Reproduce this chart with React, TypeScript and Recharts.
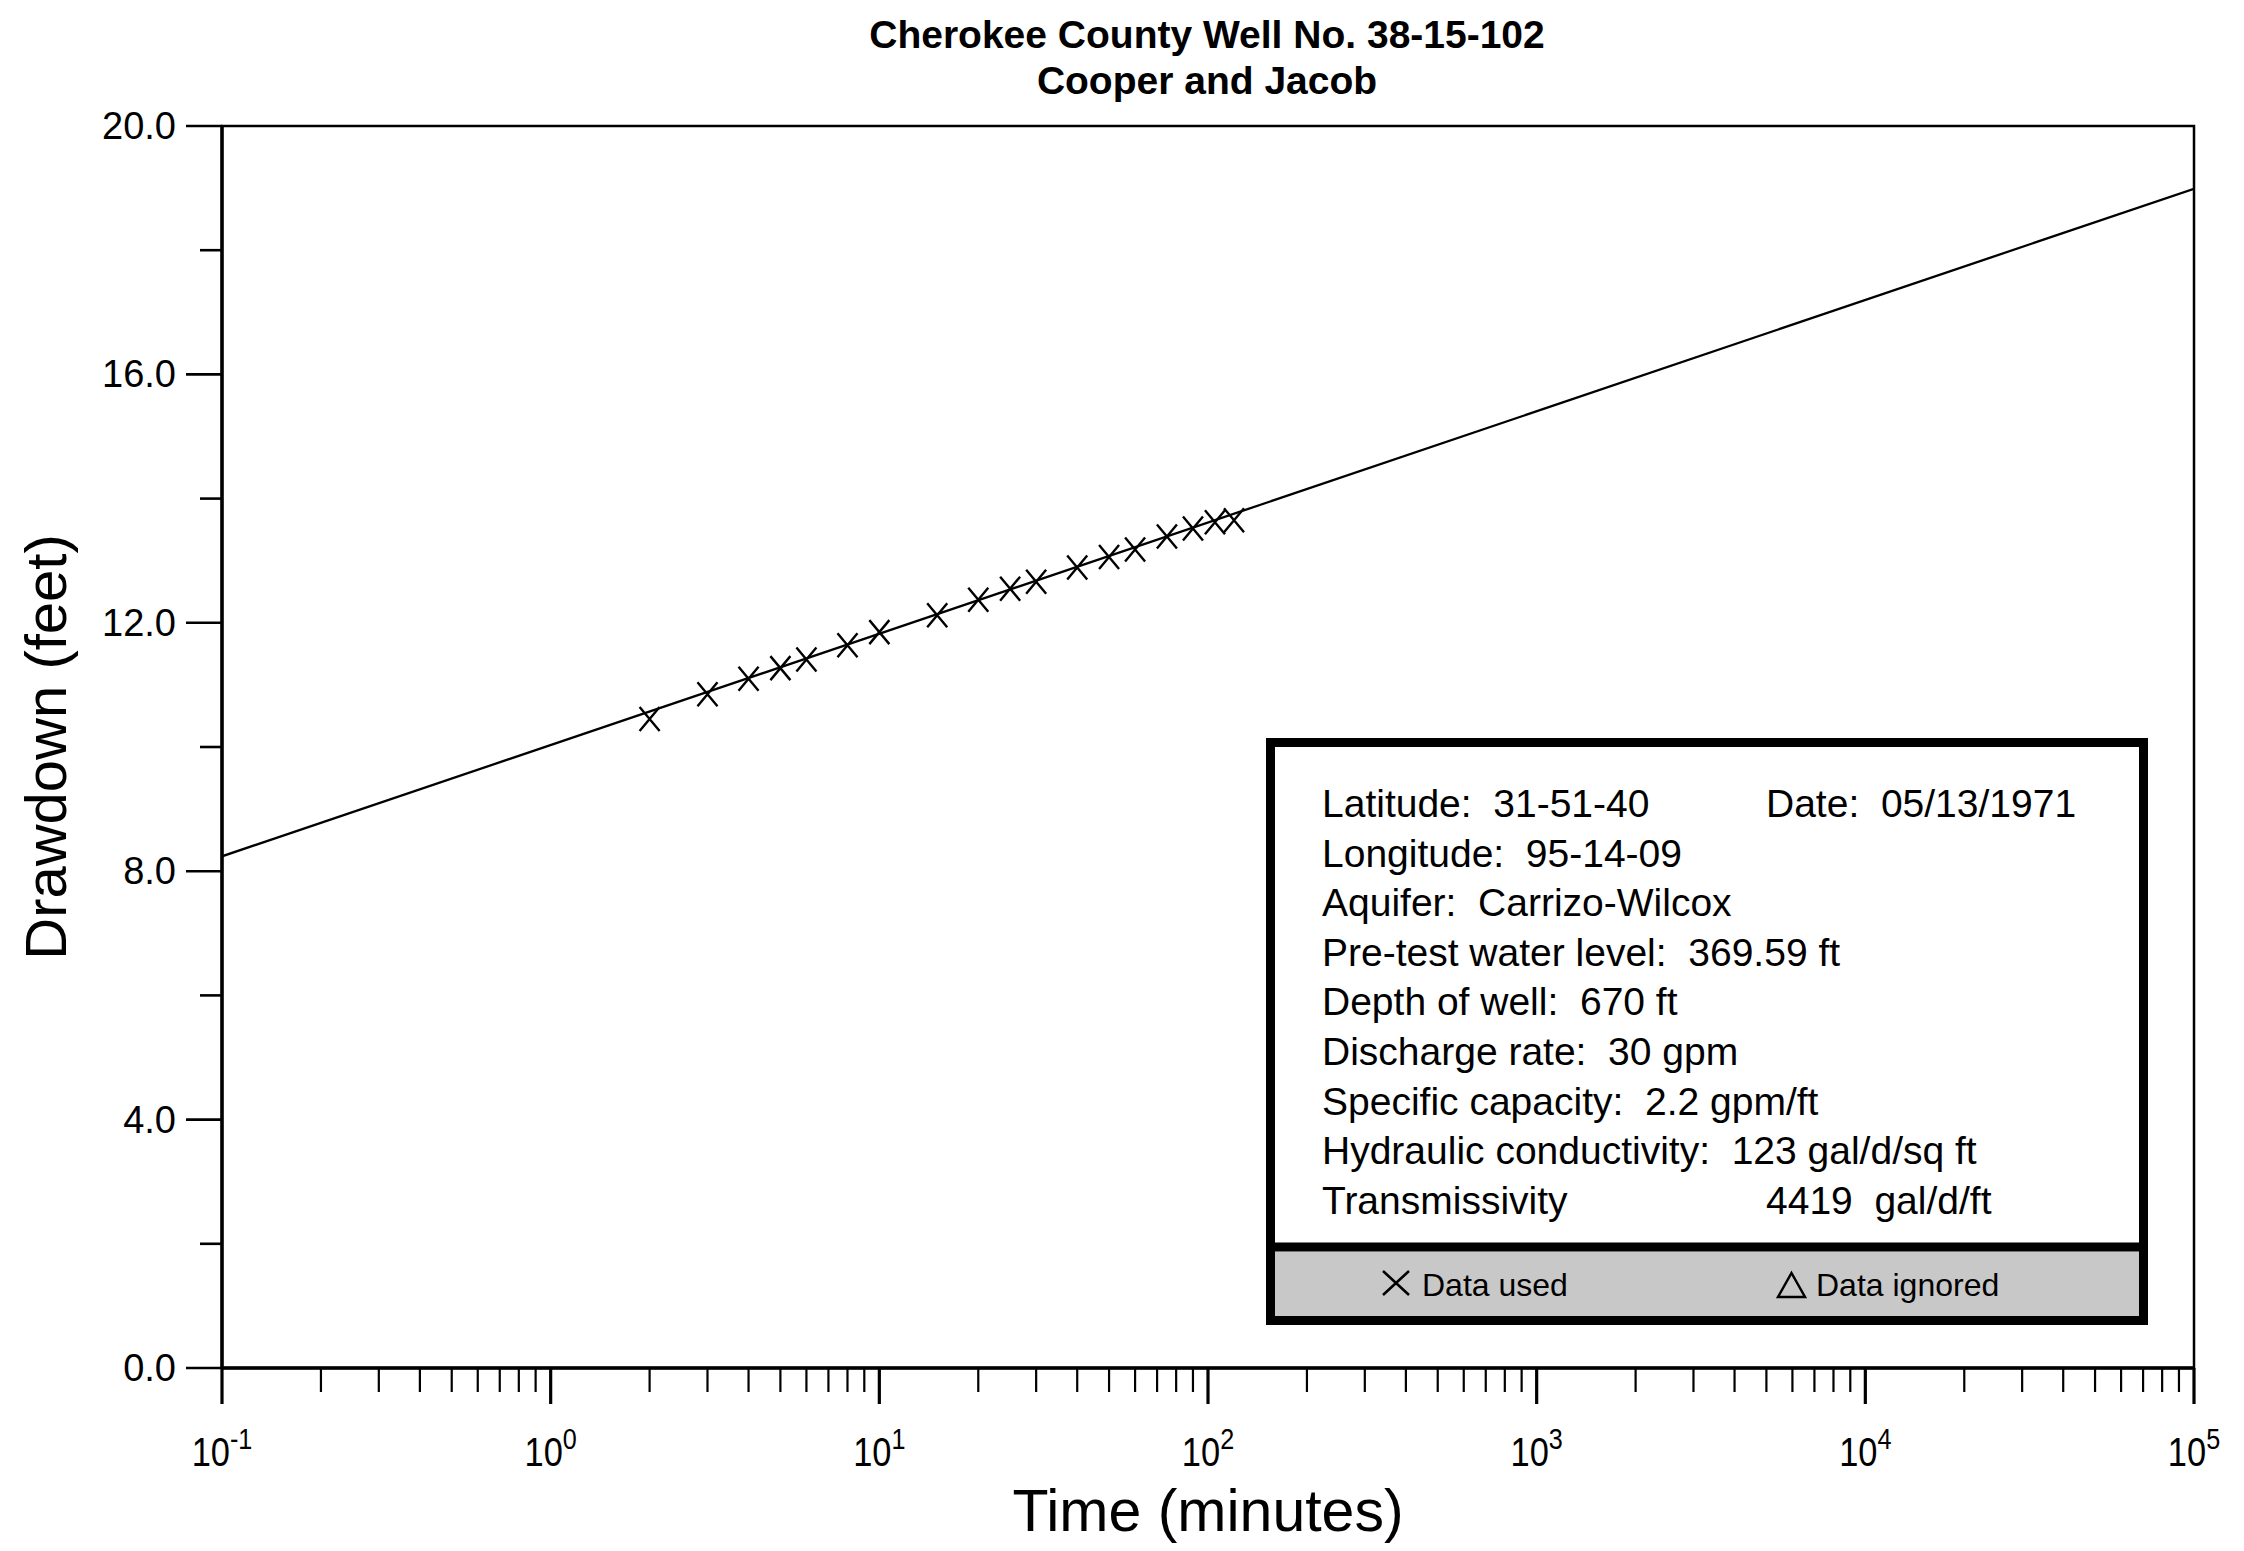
import React from 'react';
import { ScatterChart, Scatter, XAxis, YAxis, ReferenceArea } from 'recharts';

// ---------- data ----------
const TIMES = [2, 3, 4, 5, 6, 8, 10, 15, 20, 25, 30, 40, 50, 60, 75, 90, 105, 120];
const DRAWDOWN = [10.45, 10.85, 11.1, 11.27, 11.41, 11.64, 11.85, 12.12, 12.37, 12.55, 12.66, 12.89, 13.06, 13.18, 13.39, 13.52, 13.62, 13.65];
const FIT_TIMES = [0.1, 100000];
const FIT_DRAWDOWN = [8.24, 18.99];

const X_MAJOR_TICKS = [0.1, 1, 10, 100, 1000, 10000, 100000];
const X_TICK_EXPONENTS = ['-1', '0', '1', '2', '3', '4', '5'];
const X_MINOR_MULTIPLIERS = [2, 3, 4, 5, 6, 7, 8, 9];
const Y_TICKS = [0, 2, 4, 6, 8, 10, 12, 14, 16, 18, 20];
const Y_MAJOR_TICKS = [0, 4, 8, 12, 16, 20];

const TITLE_LINES = ['Cherokee County Well No. 38-15-102', 'Cooper and Jacob'];
const X_TITLE = 'Time (minutes)';
const Y_TITLE = 'Drawdown (feet)';
const INFO_LINES = [
  'Latitude:  31-51-40',
  'Longitude:  95-14-09',
  'Aquifer:  Carrizo-Wilcox',
  'Pre-test water level:  369.59 ft',
  'Depth of well:  670 ft',
  'Discharge rate:  30 gpm',
  'Specific capacity:  2.2 gpm/ft',
  'Hydraulic conductivity:  123 gal/d/sq ft',
  'Transmissivity',
];
const INFO_RIGHT: [number, string][] = [
  [0, 'Date:  05/13/1971'],
  [8, '4419  gal/d/ft'],
];
const LEGEND_USED = 'Data used';
const LEGEND_IGNORED = 'Data ignored';

// ---------- derived tables ----------
const pointData = TIMES.map((t, i) => ({ t, s: DRAWDOWN[i] }));
const fitData = FIT_TIMES.map((t, i) => ({ t, s: FIT_DRAWDOWN[i] }));
const X_TICKS: number[] = [];
X_MAJOR_TICKS.forEach((m, i) => {
  X_TICKS.push(m);
  if (i < X_MAJOR_TICKS.length - 1) X_MINOR_MULTIPLIERS.forEach((k) => X_TICKS.push(m * k));
});

const FONT = '"Liberation Sans", Arial, Helvetica, sans-serif';
const W = 2228;
const H = 1535;

const XTick = (props: any) => {
  const { x, y, payload } = props;
  const idx = X_MAJOR_TICKS.findIndex((m) => Math.abs(m - payload.value) < 1e-9 * Math.max(1, m));
  const major = idx >= 0;
  return (
    <g>
      <line x1={x} y1={y} x2={x} y2={y + (major ? 36 : 24)} stroke="#000" strokeWidth={major ? 3.2 : 2.2} />
      {major && (
        <g transform={`translate(${x},${y + 98}) scale(0.84,1)`}>
          <text x={0} y={0} textAnchor="middle" fontFamily={FONT} fill="#000">
            <tspan fontSize={41}>10</tspan>
            <tspan fontSize={30} dy={-17}>{X_TICK_EXPONENTS[idx]}</tspan>
          </text>
        </g>
      )}
    </g>
  );
};

const YTick = (props: any) => {
  const { x, y, payload } = props;
  const major = Y_MAJOR_TICKS.includes(payload.value);
  return (
    <g>
      <line x1={x} y1={y} x2={x - (major ? 36 : 22)} y2={y} stroke="#000" strokeWidth={2.6} />
      {major && (
        <text x={x - 46} y={y + 13} textAnchor="end" fontSize={38} fontFamily={FONT} fill="#000">
          {payload.value.toFixed(1)}
        </text>
      )}
    </g>
  );
};

const XMarker = (props: any) => {
  const { cx, cy } = props;
  if (cx == null || cy == null) return <g />;
  return (
    <path
      d={`M${cx - 10},${cy - 12}L${cx + 10},${cy + 12}M${cx - 10},${cy + 12}L${cx + 10},${cy - 12}`}
      stroke="#000"
      strokeWidth={2.4}
      fill="none"
    />
  );
};

const NoShape = () => <g />;

export default function App() {
  return (
    <div style={{ position: 'relative', width: W, height: H, background: '#fff' }}>
      <style>{'html,body{overflow:hidden;background:#fff}'}</style>
      <ScatterChart width={W} height={H} margin={{ top: 118, right: 42, bottom: 55, left: 64 }}>
        <XAxis
          dataKey="t"
          type="number"
          scale="log"
          domain={[0.1, 100000]}
          allowDataOverflow
          ticks={X_TICKS}
          interval={0}
          tickSize={0}
          tickMargin={0}
          tickLine={false}
          axisLine={{ stroke: '#000', strokeWidth: 3.5 }}
          height={120}
          tick={<XTick />}
        />
        <YAxis
          dataKey="s"
          type="number"
          domain={[0, 20]}
          allowDataOverflow
          ticks={Y_TICKS}
          interval={0}
          tickSize={0}
          tickMargin={0}
          tickLine={false}
          axisLine={{ stroke: '#000', strokeWidth: 3.5 }}
          width={150}
          tick={<YTick />}
        />
        <ReferenceArea x1={0.1} x2={100000} y1={0} y2={20} fill="none" fillOpacity={0} stroke="#000" strokeWidth={2.5} />
        <Scatter
          data={fitData}
          line={{ stroke: '#000', strokeWidth: 2.3 }}
          shape={<NoShape />}
          isAnimationActive={false}
        />
        <Scatter data={pointData} shape={<XMarker />} isAnimationActive={false} />
      </ScatterChart>

      <svg
        width={W}
        height={H}
        style={{ position: 'absolute', left: 0, top: 0, pointerEvents: 'none' }}
        fontFamily={FONT}
      >
        {/* title */}
        {TITLE_LINES.map((line, i) => (
          <text key={i} x={1199} y={40 + i * 46} textAnchor="middle" fontSize={39} fontWeight="bold" fill="#000">
            {line}
          </text>
        ))}
        {/* axis titles */}
        <text x={1200} y={1523} textAnchor="middle" fontSize={59} fill="#000">{X_TITLE}</text>
        <text transform="translate(58,739) rotate(-90)" x={0} y={0} textAnchor="middle" fontSize={58} fill="#000">
          {Y_TITLE}
        </text>

        {/* info box */}
        <rect x={1262.5} y={734.5} width={873} height={578} fill="#fff" stroke="#000" strokeWidth={9} />
        <rect x={1267} y={1243.5} width={864} height={64.5} fill="#c8c8c8" />
        <line x1={1262.5} y1={1239} x2={2135.5} y2={1239} stroke="#000" strokeWidth={9} />
        {INFO_LINES.map((line, i) => (
          <text key={i} x={1314} y={809 + i * 49.6} fontSize={39} fill="#000" style={{ whiteSpace: 'pre' }}>
            {line}
          </text>
        ))}
        {INFO_RIGHT.map(([row, txt]) => (
          <text key={row} x={1758} y={809 + row * 49.6} fontSize={39} fill="#000" style={{ whiteSpace: 'pre' }}>
            {txt}
          </text>
        ))}
        {/* legend */}
        <path d="M1375,1263L1401,1287M1375,1287L1401,1263" stroke="#000" strokeWidth={2.5} fill="none" />
        <text x={1414} y={1288} fontSize={32} fill="#000">{LEGEND_USED}</text>
        <path d="M1783.5,1265L1797,1289L1770,1289Z" stroke="#000" strokeWidth={2.5} fill="none" />
        <text x={1808} y={1288} fontSize={32} fill="#000">{LEGEND_IGNORED}</text>
      </svg>
    </div>
  );
}
